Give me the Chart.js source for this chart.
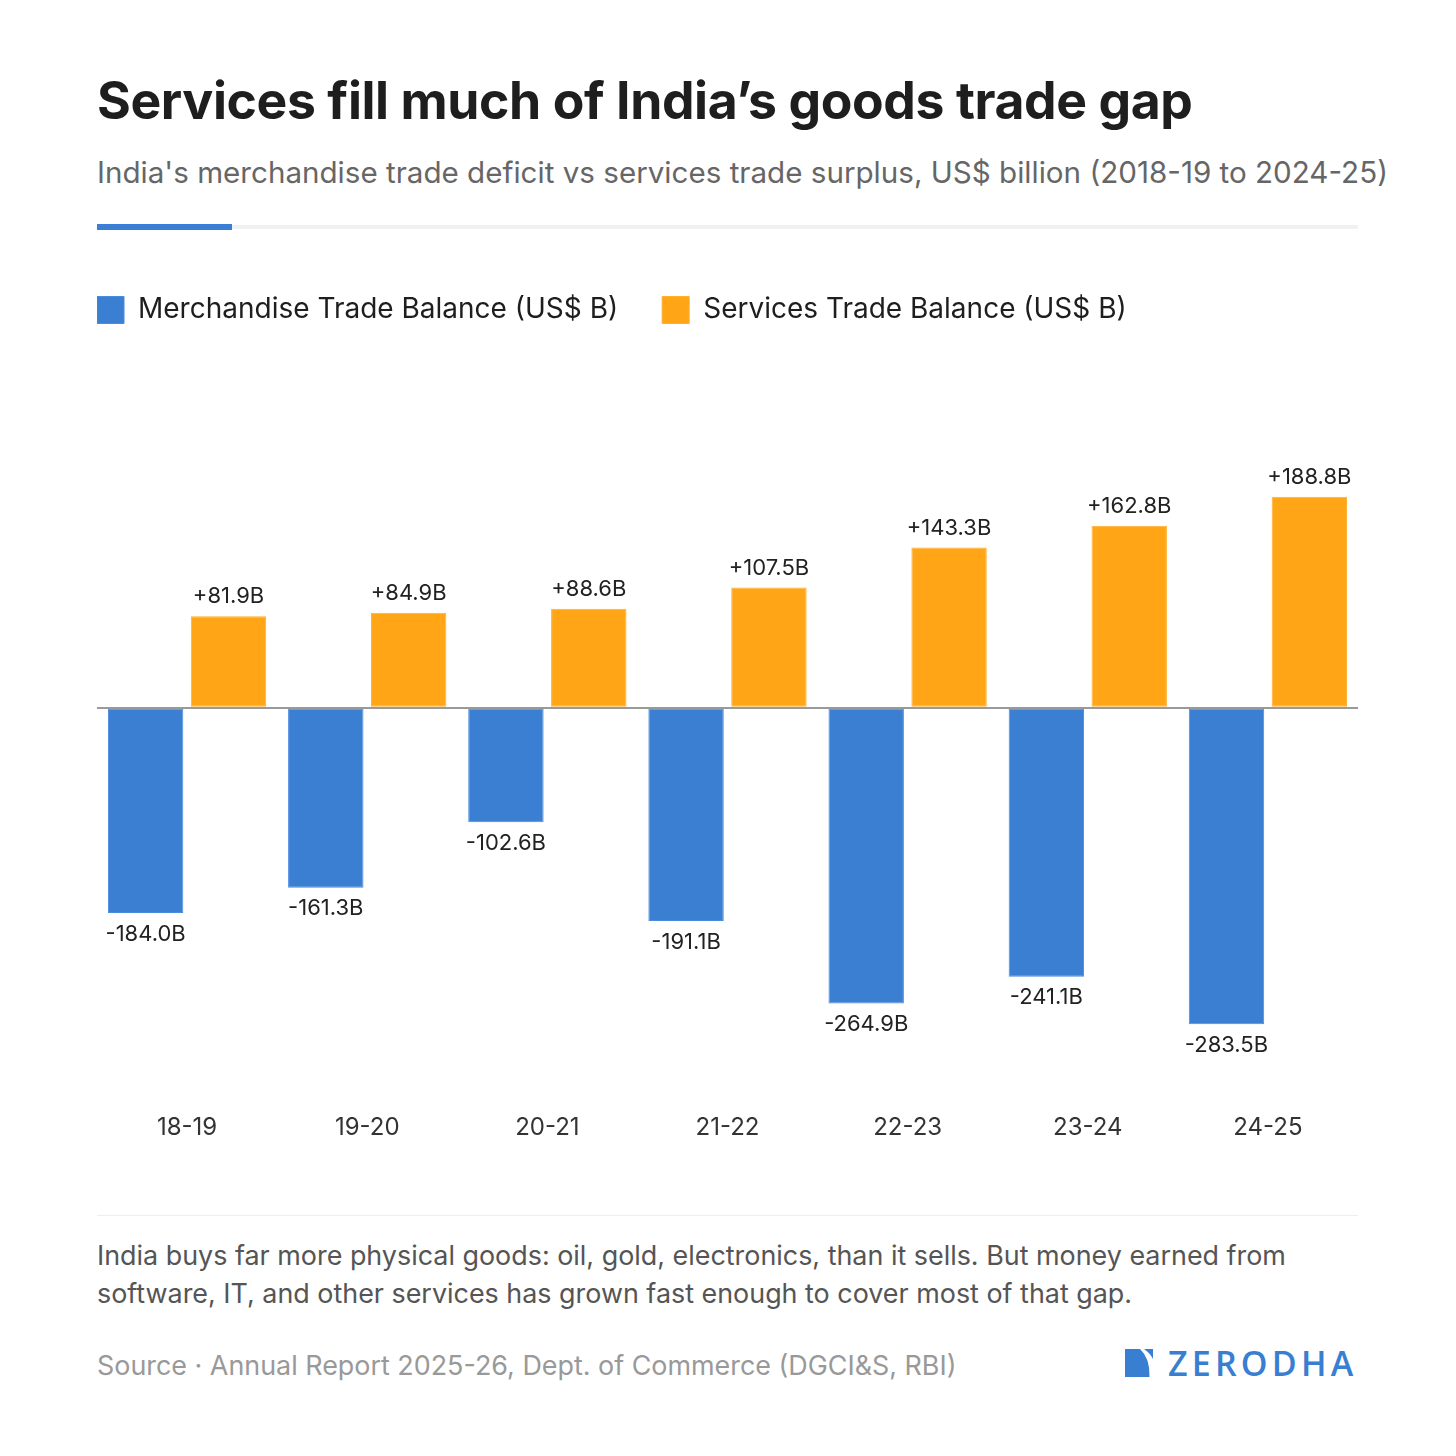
<!DOCTYPE html>
<html>
<head>
<meta charset="utf-8">
<script src="https://cdn.jsdelivr.net/npm/chart.js@4.4.1/dist/chart.umd.min.js"></script>
<style>
  html, body { margin:0; padding:0; background:#fff; }
  body { width:1456px; height:1456px; position:relative; overflow:hidden; font-family: Inter, "Noto Sans", sans-serif; }
  .abs { position:absolute; }
  #title { left:97px; top:68px; font-size:51.7px; font-weight:700; color:#1e1e1e; letter-spacing:-0.4px; white-space:nowrap; line-height:64px; }
  #subtitle { left:97px; top:152px; font-size:29.6px; color:#666; white-space:nowrap; line-height:40px; }
  #ruleGray { left:97px; top:225px; width:1261px; height:4px; background:#f1f1f4; }
  #ruleBlue { left:97px; top:224px; width:135px; height:6px; background:#3a7fd5; }
  #chartBox { left:97px; top:280px; width:1261px; height:906px; }
  #sep { left:97px; top:1215px; width:1261px; height:1px; background:#eeeeee; }
  #note { left:97px; top:1237px; width:1261px; font-size:26.9px; color:#555; line-height:37.5px; }
  #source { left:97px; top:1347px; font-size:26.9px; color:#999; white-space:nowrap; line-height:36px; }
  #logo { left:1125px; top:1346px; height:34px; display:flex; align-items:center; }
  #logo span { font-family: "Open Sans", Roboto, sans-serif; font-weight:600; font-size:34px; color:#387ed1; letter-spacing:4.2px; margin-left:15px; line-height:34px; }
</style>
</head>
<body>
<div id="title" class="abs">Services fill much of India’s goods trade gap</div>
<div id="subtitle" class="abs">India's merchandise trade deficit vs services trade surplus, US$ billion (2018-19 to 2024-25)</div>
<div id="ruleGray" class="abs"></div>
<div id="ruleBlue" class="abs"></div>
<div id="chartBox" class="abs"><canvas id="c"></canvas></div>
<div id="sep" class="abs"></div>
<div id="note" class="abs">India buys far more physical goods: oil, gold, electronics, than it sells. But money earned from software, IT, and other services has grown fast enough to cover most of that gap.</div>
<div id="source" class="abs">Source · Annual Report 2025-26, Dept. of Commerce (DGCI&amp;S, RBI)</div>
<div id="logo" class="abs">
  <svg width="28" height="28" viewBox="0 0 28 28">
    <path d="M0,0 L15,0 Q25,9 24.5,28 L0,28 Z" fill="#387ed1"/>
    <path d="M19,0 L28,0 L28,10 Q25,4 19,0 Z" fill="#387ed1"/>
  </svg>
  <span>ZERODHA</span>
</div>
<script>
const categories = ['18-19','19-20','20-21','21-22','22-23','23-24','24-25'];
const merchandise = [-184.0, -161.3, -102.6, -191.1, -264.9, -241.1, -283.5];
const services = [81.9, 84.9, 88.6, 107.5, 143.3, 162.8, 188.8];
const seriesNames = ['Merchandise Trade Balance (US$ B)', 'Services Trade Balance (US$ B)'];
const yMin = -341.7;
const yMax = 311.3;

const LEGEND_PAD = 44;

const legendLayoutPlugin = {
  id: 'legendLayout',
  beforeInit(chart) {
    const origFit = chart.legend.fit;
    chart.legend.fit = function () {
      origFit.bind(chart.legend)();
      this.height = 80;
    };
  },
  afterLayout(chart) {
    const lg = chart.legend;
    if (!lg) return;
    lg.left -= LEGEND_PAD;
    lg.right -= LEGEND_PAD;
    lg.top -= 28;
    lg.bottom -= 28;
  }
};

const valueLabels = {
  id: 'valueLabels',
  afterDatasetsDraw(chart) {
    const ctx = chart.ctx;
    ctx.save();
    ctx.font = '400 22px Inter, "Noto Sans", sans-serif';
    ctx.fillStyle = '#222';
    ctx.textAlign = 'center';
    chart.data.datasets.forEach((ds, di) => {
      const meta = chart.getDatasetMeta(di);
      meta.data.forEach((bar, i) => {
        const v = ds.data[i];
        const txt = (v > 0 ? '+' : '') + v.toFixed(1) + 'B';
        if (v >= 0) {
          ctx.textBaseline = 'alphabetic';
          ctx.fillText(txt, bar.x, bar.y - 13);
        } else {
          ctx.textBaseline = 'top';
          ctx.fillText(txt, bar.x, bar.y + 10);
        }
      });
    });
    ctx.restore();
  }
};

new Chart(document.getElementById('c'), {
  type: 'bar',
  data: {
    labels: categories,
    datasets: [
      { label: seriesNames[0], data: merchandise, backgroundColor: '#3a7fd1', borderColor: '#4a8be0', borderWidth: 1, borderSkipped: false },
      { label: seriesNames[1], data: services, backgroundColor: '#ffa516', borderColor: '#ffb02e', borderWidth: 1, borderSkipped: false }
    ]
  },
  options: {
    responsive: true,
    maintainAspectRatio: false,
    animation: false,
    devicePixelRatio: 1,
    layout: { padding: { top: 0, bottom: 20, left: 0, right: 0 } },
    datasets: { bar: { categoryPercentage: 0.92, barPercentage: 0.91 } },
    plugins: {
      legend: {
        position: 'top',
        align: 'start',
        labels: {
          boxWidth: 27,
          boxHeight: 27,
          padding: LEGEND_PAD,
          color: '#1e1e1e',
          font: { family: 'Inter, "Noto Sans", sans-serif', size: 28 }
        }
      },
      tooltip: { enabled: false }
    },
    scales: {
      x: {
        grid: { display: false, drawTicks: false },
        border: { display: false },
        ticks: { color: '#333', padding: 24, font: { family: 'Inter, "Noto Sans", sans-serif', size: 24 } }
      },
      y: {
        min: yMin,
        max: yMax,
        border: { display: false },
        grid: {
          drawTicks: false,
          lineWidth: 2,
          color: (c) => (c.tick && c.tick.value === 0 ? '#9a9a9a' : 'rgba(0,0,0,0)')
        },
        ticks: { display: false, stepSize: 50 }
      }
    }
  },
  plugins: [legendLayoutPlugin, valueLabels]
});
</script>
</body>
</html>
